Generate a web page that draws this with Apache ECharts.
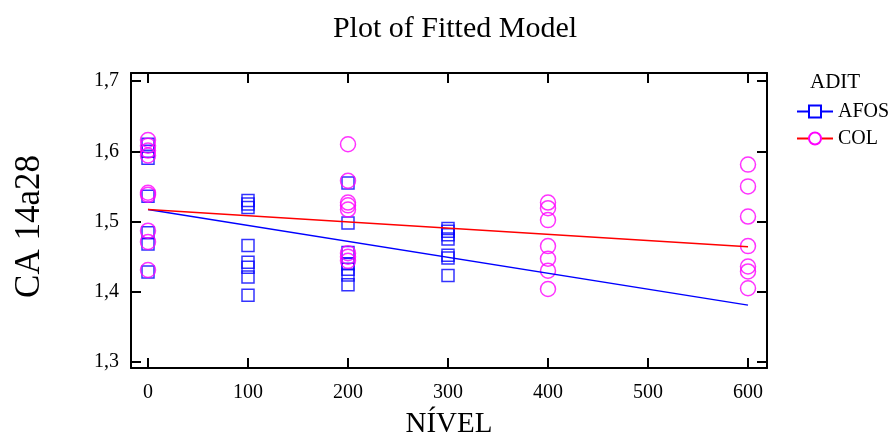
<!DOCTYPE html>
<html><head><meta charset="utf-8">
<script src="https://cdn.jsdelivr.net/npm/echarts@6/dist/echarts.min.js"></script>
<style>html,body{margin:0;padding:0;background:#fff}#c{width:895px;height:444px}</style>
</head><body><div id="c"></div>
<script>
// Data
const xTicks = [0, 100, 200, 300, 400, 500, 600];
const yTicks = [1.3, 1.4, 1.5, 1.6, 1.7];
const afosX = [0,0,0,0,0,0,0, 100,100,100,100,100,100,100,100, 200,200,200,200,200,200,200, 300,300,300,300,300,300,300];
const afosY = [1.610,1.600,1.590,1.536,1.484,1.468,1.428, 1.530,1.525,1.520,1.466,1.442,1.435,1.421,1.395, 1.555,1.498,1.456,1.440,1.432,1.424,1.410, 1.490,1.486,1.481,1.475,1.452,1.448,1.423];
const colX = [0,0,0,0,0,0,0,0,0, 200,200,200,200,200,200,200,200, 400,400,400,400,400,400,400, 600,600,600,600,600,600,600];
const colY = [1.616,1.608,1.601,1.594,1.541,1.538,1.487,1.471,1.431, 1.610,1.558,1.527,1.523,1.517,1.455,1.450,1.444, 1.527,1.519,1.502,1.465,1.447,1.430,1.404, 1.581,1.550,1.507,1.465,1.436,1.429,1.405];
const fitX = [0, 600];
const afosFit = [1.517, 1.381];
const colFit = [1.517, 1.464];

const pairs = (xs, ys) => xs.map((x, i) => [x, ys[i]]);
const serif = 'Liberation Serif';
const fmtY = v => v.toFixed(1).replace('.', ',');
const blue = '#0000ff', red = '#ff0000', mag = '#ff00ff';

const chart = echarts.init(document.getElementById('c'));
const axLine = {show: true, onZero: false, lineStyle: {color: '#000', width: 2}};
const tick = (vals) => ({show: true, inside: true, length: 10, customValues: vals, lineStyle: {color: '#000', width: 2}});
chart.setOption({
  animation: false,
  title: {text: 'Plot of Fitted Model', left: 450, top: 9, textAlign: 'center',
    textStyle: {fontFamily: serif, fontWeight: 'normal', fontSize: 30, color: '#000'}},
  legend: {
    data: ['AFOS', 'COL'], orient: 'vertical', left: 791, top: 96, itemGap: 6,
    itemWidth: 36, itemHeight: 15,
    textStyle: {fontFamily: serif, fontSize: 20, color: '#000', lineHeight: 21}
  },
  graphic: [{type: 'text', left: 810, top: 72, style: {text: 'ADIT', fontFamily: serif, fontSize: 21, fill: '#000'}}],
  grid: {left: 131, top: 73, right: 128, bottom: 76, show: false},
  xAxis: [{
    type: 'value', min: -17, max: 619, position: 'bottom',
    name: 'NÍVEL', nameLocation: 'middle', nameGap: 42,
    nameTextStyle: {fontFamily: serif, fontSize: 29, color: '#000'},
    axisLine: axLine, axisTick: tick(xTicks), splitLine: {show: false},
    axisLabel: {customValues: xTicks, fontFamily: serif, fontSize: 20, color: '#000', margin: 15}
  }, {
    type: 'value', min: -17, max: 619, position: 'top',
    axisLine: axLine, axisTick: tick(xTicks), splitLine: {show: false}, axisLabel: {show: false}
  }],
  yAxis: [{
    type: 'value', min: 1.2915, max: 1.7114, position: 'left',
    name: 'CA 14a28', nameLocation: 'middle', nameGap: 84, nameRotate: 90,
    nameTextStyle: {fontFamily: serif, fontSize: 35, color: '#000', padding: [0, 12, 0, 0]},
    axisLine: axLine, axisTick: tick(yTicks), splitLine: {show: false},
    axisLabel: {customValues: yTicks, formatter: fmtY, fontFamily: serif, fontSize: 20, color: '#000', margin: 12}
  }, {
    type: 'value', min: 1.2915, max: 1.7114, position: 'right',
    axisLine: axLine, axisTick: tick(yTicks), splitLine: {show: false}, axisLabel: {show: false}
  }],
  series: [
    {name: 'AFOS', type: 'line', data: pairs(fitX, afosFit), showSymbol: false, symbol: 'rect', symbolSize: 11,
      itemStyle: {color: '#fff', borderColor: blue, borderWidth: 1.5}, lineStyle: {color: blue, width: 1.5}, z: 3},
    {name: 'COL', type: 'line', data: pairs(fitX, colFit), showSymbol: false, symbol: 'circle', symbolSize: 14,
      itemStyle: {color: '#fff', borderColor: mag, borderWidth: 1.5}, lineStyle: {color: red, width: 1.5}, z: 3},
    {name: 'AFOS', type: 'scatter', data: pairs(afosX, afosY), symbol: 'rect', symbolSize: 12,
      itemStyle: {color: 'rgba(0,0,0,0)', borderColor: blue, borderWidth: 1.5}, z: 2},
    {name: 'COL', type: 'scatter', data: pairs(colX, colY), symbol: 'circle', symbolSize: 15,
      itemStyle: {color: 'rgba(0,0,0,0)', borderColor: mag, borderWidth: 1.5}, z: 2}
  ]
});
</script></body></html>
